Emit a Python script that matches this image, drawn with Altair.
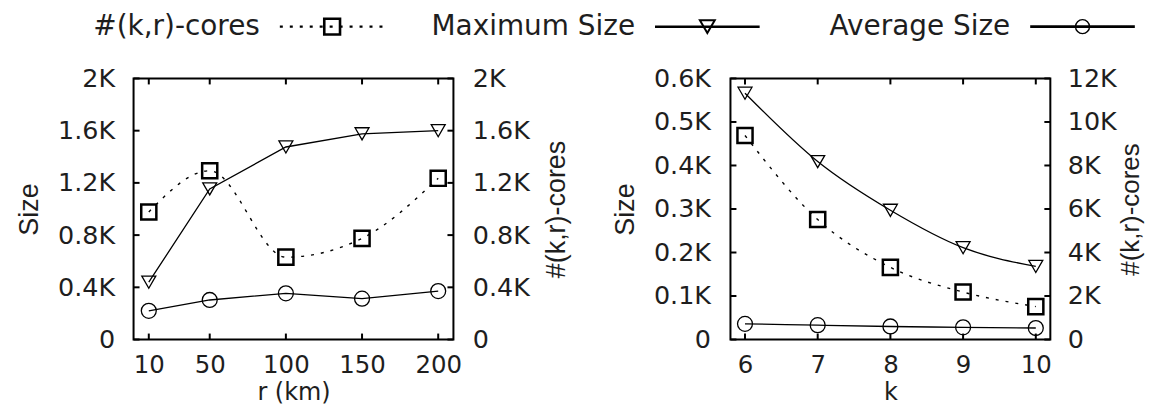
import altair as alt
import pandas as pd

# ---------------- data ----------------
r_values = [10, 50, 100, 150, 200]
r_max_size = [439, 1154, 1475, 1576, 1600]
r_avg_size = [220, 303, 354, 313, 371]
r_cores = [977, 1293, 631, 775, 1235]

k_values = [6, 7, 8, 9, 10]
k_max_size = [566, 409, 297, 211, 168]
k_avg_size = [36, 33, 30, 28, 26.5]
k_cores = [9379, 5515, 3318, 2182, 1515]

r_size_ticks = [0, 400, 800, 1200, 1600, 2000]
r_core_ticks = [0, 400, 800, 1200, 1600, 2000]
k_size_ticks = [0, 100, 200, 300, 400, 500, 600]
k_core_ticks = [0, 2000, 4000, 6000, 8000, 10000, 12000]

series_names = ["#(k,r)-cores", "Maximum Size", "Average Size"]
series_shapes = ["square", "triangle-down", "circle"]

# ---------------- styles ----------------
TXT = "#1e1e1e"
HFONT = "DejaVu Sans"
VFONT = "Liberation Sans"
LABEL_EXPR = "datum.value == 0 ? '0' : (datum.value / 1000) + 'K'"
DOTS = [3, 7]


def panel(xs, mx, av, co, x_dom, x_ticks, s_dom, s_ticks, c_dom, c_ticks,
          x_title, lp_l, tp_l, lp_r, tp_r, tfs_r, size_interp):
    X = alt.X("x:Q", scale=alt.Scale(domain=x_dom, nice=False, zero=False),
              axis=alt.Axis(values=x_ticks, title=x_title, ticks=False, tickSize=0,
                            domain=False, grid=False, labelFlush=False, labelOverlap=False,
                            labelPadding=14, titlePadding=4,
                            labelFont=HFONT, labelFontSize=24.5, labelColor=TXT,
                            titleFont=HFONT, titleFontSize=24, titleFontWeight="normal",
                            titleColor=TXT))
    Ys = alt.Y("v:Q", scale=alt.Scale(domain=s_dom, nice=False, zero=False),
               axis=alt.Axis(orient="left", values=s_ticks, title="Size", labelExpr=LABEL_EXPR,
                             ticks=False, tickSize=0, domain=False, grid=False,
                             labelFlush=False, labelOverlap=False,
                             labelPadding=lp_l, titlePadding=tp_l,
                             labelFont=HFONT, labelFontSize=25.5, labelColor=TXT,
                             titleFont=VFONT, titleFontSize=27, titleFontWeight="normal",
                             titleColor=TXT))
    Yc = alt.Y("v:Q", scale=alt.Scale(domain=c_dom, nice=False, zero=False),
               axis=alt.Axis(orient="right", values=c_ticks, title="#(k,r)-cores",
                             labelExpr=LABEL_EXPR,
                             ticks=False, tickSize=0, domain=False, grid=False,
                             labelFlush=False, labelOverlap=False,
                             labelPadding=lp_r, titlePadding=tp_r,
                             titleAngle=270, titleBaseline="top",
                             labelFont=HFONT, labelFontSize=25.5, labelColor=TXT,
                             titleFont=VFONT, titleFontSize=tfs_r, titleFontWeight="normal",
                             titleColor=TXT))

    df_max = pd.DataFrame({"x": xs, "v": mx})
    df_avg = pd.DataFrame({"x": xs, "v": av})
    df_core = pd.DataFrame({"x": xs, "v": co})

    n_x = len(x_ticks)
    df_bottom = pd.DataFrame({"x": x_ticks, "v": [s_dom[0]] * n_x})
    df_top = pd.DataFrame({"x": x_ticks, "v": [s_dom[1]] * n_x})
    df_left = pd.DataFrame({"x": [x_dom[0]] * len(s_ticks), "v": s_ticks})
    df_right = pd.DataFrame({"x": [x_dom[1]] * len(c_ticks), "v": c_ticks})

    max_line = alt.Chart(df_max).mark_line(interpolate=size_interp, color="black",
                                           strokeWidth=1.3).encode(X, Ys)
    max_pts = alt.Chart(df_max).mark_point(shape="triangle-down", size=196, filled=False,
                                           color="black", strokeWidth=1.3, opacity=1).encode(X, Ys)
    avg_line = alt.Chart(df_avg).mark_line(interpolate=size_interp, color="black",
                                           strokeWidth=1.3).encode(X, Ys)
    avg_pts = alt.Chart(df_avg).mark_point(shape="circle", size=225, filled=False,
                                           color="black", strokeWidth=1.3, opacity=1).encode(X, Ys)
    t_bottom = alt.Chart(df_bottom).mark_tick(orient="vertical", size=6, thickness=2,
                                              yOffset=-3, color="black", opacity=1).encode(X, Ys)
    t_top = alt.Chart(df_top).mark_tick(orient="vertical", size=6, thickness=2,
                                        yOffset=3, color="black", opacity=1).encode(X, Ys)
    t_left = alt.Chart(df_left).mark_tick(orient="horizontal", size=6, thickness=2,
                                          xOffset=3, color="black", opacity=1).encode(X, Ys)

    core_line = alt.Chart(df_core).mark_line(interpolate="monotone", strokeDash=DOTS,
                                             color="black", strokeWidth=1.4).encode(X, Yc)
    core_pts = alt.Chart(df_core).mark_point(shape="square", size=230, filled=False,
                                             color="black", strokeWidth=2.5, opacity=1).encode(X, Yc)
    t_right = alt.Chart(df_right).mark_tick(orient="horizontal", size=6, thickness=2,
                                            xOffset=-3, color="black", opacity=1).encode(X, Yc)

    size_group = alt.layer(max_line, max_pts, avg_line, avg_pts, t_bottom, t_top, t_left)
    core_group = alt.layer(core_line, core_pts, t_right)
    return (alt.layer(size_group, core_group)
            .resolve_scale(y="independent")
            .properties(width=321, height=262,
                        view=alt.ViewBackground(stroke="black", strokeWidth=2)))


left = panel(r_values, r_max_size, r_avg_size, r_cores, [0, 210], r_values,
             [0, 2000], r_size_ticks, [0, 2000], r_core_ticks, "r (km)",
             19, 14, 19, 14, 27, "linear")
right = panel(k_values, k_max_size, k_avg_size, k_cores, [5.8, 10.2], k_values,
              [0, 600], k_size_ticks, [0, 12000], k_core_ticks, "k",
              20, 14, 17, 1, 26, "monotone")

# ---------------- legend ----------------
leg_df = pd.DataFrame({"idx": [0, 1, 2], "name": series_names, "row": [0, 0, 0]})
LX = alt.X("idx:Q", scale=alt.Scale(domain=[-0.5293, 2.1267], nice=False, zero=False), axis=None)
LY = alt.Y("row:Q", scale=alt.Scale(domain=[-1, 1], nice=False), axis=None)

leg_text = alt.Chart(leg_df).mark_text(align="right", baseline="middle", dx=-72.5,
                                       font=HFONT, fontSize=28, color=TXT).encode(
    LX, LY, text="name:N")
leg_rule = alt.Chart(leg_df).mark_rule(xOffset=-52.5, x2Offset=52.5, color="black").encode(
    LX, alt.X2("idx"), LY,
    strokeDash=alt.StrokeDash("name:N", scale=alt.Scale(domain=series_names,
                                                         range=[DOTS, [1, 0], [1, 0]]),
                              legend=None),
    strokeWidth=alt.StrokeWidth("name:N", scale=alt.Scale(domain=series_names,
                                                           range=[2.4, 2.6, 2.6]),
                                legend=None))
leg_pts = alt.Chart(leg_df).mark_point(filled=False, color="black", opacity=1).encode(
    LX, LY,
    shape=alt.Shape("name:N", scale=alt.Scale(domain=series_names, range=series_shapes),
                    legend=None),
    size=alt.Size("name:N", scale=alt.Scale(domain=series_names, range=[250, 196, 225]),
                  legend=None),
    strokeWidth=alt.StrokeWidth("name:N", scale=alt.Scale(domain=series_names,
                                                           range=[2.6, 1.4, 1.4]),
                                legend=None))
legend = (alt.layer(leg_rule, leg_pts, leg_text)
          .resolve_scale(strokeWidth="independent")
          .properties(width=1000, height=28,
                      view=alt.ViewBackground(stroke="transparent")))

chart = (alt.vconcat(legend,
                     alt.hconcat(left, right, spacing=278, bounds="flush"),
                     spacing=24)
         .properties(padding={"left": 6, "top": 3, "right": 0, "bottom": 0})
         .configure_view(stroke="transparent"))

chart.save("out.html", embed_options={"renderer": "svg", "actions": False})
